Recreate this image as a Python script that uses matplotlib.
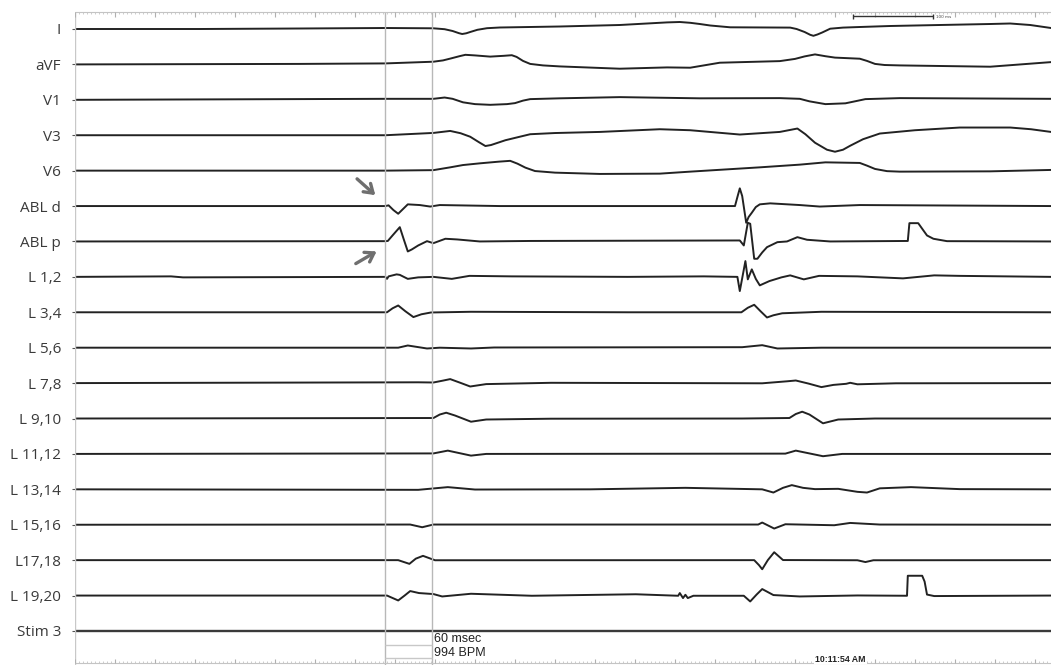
import matplotlib
matplotlib.use("Agg")
import matplotlib.pyplot as plt

# lead names, top to bottom
leads = ["I", "aVF", "V1", "V3", "V6", "ABL d", "ABL p", "L 1,2", "L 3,4", "L 5,6",
         "L 7,8", "L 9,10", "L 11,12", "L 13,14", "L 15,16", "L17,18", "L 19,20", "Stim 3"]

lead_I = [(0, 0), (156, 0), (281, 0.5), (388, 1), (448, 0.7), (462, -0.2), (472, -2), (480, -4.2),
          (484, -5), (489, -4.3), (494, -3), (503, -0.8), (515, 0.8), (531, 1.5), (606, 2.5),
          (681, 4), (715, 5.5), (740, 6.6), (756, 7), (769, 6.2), (781, 5), (794, 3.5), (819, 1.7),
          (894, 1.4), (902, 0), (912, -3), (919, -5.8), (923, -6.8), (928, -5.5), (934, -3.5),
          (944, 0.3), (960, 1.4), (981, 2), (1019, 3), (1081, 4), (1144, 5), (1169, 5.5),
          (1194, 4), (1220, 1)]
lead_aVF = [(0, 0), (281, 0.5), (388, 1), (448, 2.7), (460, 4), (470, 6), (481, 8.3), (488, 9.6),
            (500, 9), (519, 7.8), (536, 8.6), (546, 9.2), (552, 7.5), (560, 3.5), (569, 0.5),
            (585, -1), (606, -2), (681, -4.3), (740, -3), (769, -3.3), (806, 1.7), (881, 3.3),
            (900, 5.5), (912, 8), (925, 10), (938, 8.2), (950, 6.8), (981, 5.7), (990, 3.5),
            (1000, 0.5), (1012, -0.6), (1031, -1), (1144, -2.3), (1220, 2.3)]
lead_V1 = [(0, 0), (388, 1), (448, 1), (462, 2.3), (472, 1), (485, -2.5), (500, -4.3), (519, -5),
           (540, -4.3), (550, -3.3), (560, -0.8), (569, 0.7), (606, 1.5), (681, 2.7), (781, 1.5),
           (881, 1.7), (906, 1), (918, -1.5), (938, -4.3), (963, -3.5), (975, -1.5), (988, 0.7),
           (1031, 1.7), (1220, 1)]
lead_V3 = [(0, 0), (388, 0), (448, 2.3), (469, 4.3), (482, 2), (494, -1.5), (505, -7), (513, -10.8),
           (520, -9.8), (538, -5), (556, -1.5), (569, 1), (600, 2.2), (656, 3.3), (731, 6),
           (769, 5), (831, 0.7), (881, 3.3), (903, 6.7), (913, 1), (925, -7.5), (940, -14.5),
           (950, -16.5), (960, -14.5), (969, -10.5), (985, -4), (1006, 1.7), (1050, 5),
           (1106, 7.7), (1169, 7.7), (1195, 6), (1220, 3.3)]
lead_V6 = [(0, 0), (388, 0), (448, 0.5), (469, 3.3), (485, 5.6), (506, 7.3), (530, 9),
           (544, 9.8), (553, 7), (563, 3), (575, -0.4), (600, -2), (656, -3.3), (731, -3),
           (769, -1), (856, 3.3), (906, 6), (938, 8.3), (981, 7.7), (990, 5), (1000, 1.7),
           (1015, -0.5), (1031, -1), (1144, -0.7), (1220, 0.7)]
lead_ABLd = [(0, 0), (388, 0), (392, 0.7), (398, -4), (404, -7.7), (410, -3), (416, 1.7),
             (431, 1), (444, -0.5), (456, 1), (531, 0), (825, 0), (828, 9), (831, 17.7),
             (834, 10), (839, -16.7), (842, -11), (846, -6.7), (851, -1), (856, 1.7), (869, 2.7),
             (906, 1), (931, -0.5), (981, 1), (1220, 0)]
lead_ABLp = [(0, 0), (388, 0.3), (391, 0.5), (398, 7), (406, 14.3), (411, 2), (416, -10),
             (421, -8), (429, -4), (440, 0.3), (448, -1.7), (463, 2.7), (478, 2), (506, 0),
             (569, 0.5), (831, 1), (836, -4), (841, 18.7), (844, 17.7), (849, -17.3), (853, -17.3),
             (859, -11), (865, -5.7), (878, -0.7), (890, 0), (903, 4.3), (915, 1.7), (944, 0),
             (1041, 0.5), (1043, 18.3), (1054, 18.3), (1059, 12.7), (1065, 6), (1073, 2.7),
             (1090, 0.3), (1220, 0)]
lead_L12 = [(0, 0), (120, 0.5), (135, -0.5), (388, 0), (390, -2), (392, 0.5), (402, 2.5),
            (406, 2), (416, -2), (429, -0.5), (448, 0), (471, -2), (493, 1), (546, 0.5), (691, 0),
            (786, 0.5), (828, 0), (831, -14.2), (838, 15.8), (841, -2.5), (846, 7.5), (851, -2),
            (856, -8.5), (868, -4.2), (883, -0.5), (894, 1.5), (911, -2.5), (930, 1), (978, 0.5),
            (1035, -1.5), (1074, 1.5), (1106, 1), (1220, 0)]
lead_L34 = [(0, 0), (390, 0), (397, 4), (404, 6.8), (413, 1), (423, -4.8), (433, -2), (445, -0.2),
            (495, 0.5), (691, 0), (833, 0), (841, 4.5), (849, 7.5), (857, 1), (865, -5.2),
            (873, -3), (884, -1), (933, 0.5), (1220, 0)]
lead_L56 = [(0, 0), (404, 0), (416, 2.2), (440, -0.8), (456, 0), (495, -0.8), (524, 0.2),
            (834, 0.5), (859, 2.5), (878, -0.8), (933, 0), (1220, 0)]
lead_L78 = [(0, 0), (429, 0.8), (448, 0.6), (460, 2.5), (469, 4), (481, 0.5), (494, -3.4),
            (514, -1), (595, 0.3), (859, -0.2), (890, 1.8), (901, 2.6), (917, -0.5), (933, -4),
            (948, -1.8), (964, -0.7), (969, 0.3), (978, -1.2), (1026, -0.2), (1220, 0)]
lead_L910 = [(0, 0), (448, 0.5), (456, 4), (464, 5.8), (475, 3), (495, -3.2), (514, -1),
             (595, -0.2), (834, 0), (893, 0.5), (901, 4.5), (909, 6.8), (918, 4), (935, -4.8),
             (954, -1), (1000, 0), (1220, 0)]
lead_L1112 = [(0, 0), (448, 0.5), (466, 3.3), (495, -1.7), (514, 0), (888, 0.3), (901, 3.3),
              (935, -2.3), (959, 0), (1220, 0)]
lead_L1314 = [(0, 0), (429, -0.5), (466, 2.2), (500, -0.2), (644, 0), (763, 1.5), (859, 0),
              (873, -3.2), (885, 1.5), (896, 4.2), (910, 1.5), (925, 0.2), (954, 0.5),
              (978, -2.5), (990, -3.2), (1006, 1), (1045, 2.2), (1106, 0.2), (1220, 0)]
lead_L1516 = [(0, 0), (419, 0.2), (434, -2.5), (448, 0.2), (854, 0.2), (859, 2.2), (874, -3.8),
              (888, 0.5), (949, -0.5), (969, 1.8), (1006, 0.2), (1220, 0)]
lead_L1718 = [(0, 0), (404, 0), (418, -3.7), (426, 1.5), (435, 4.3), (450, -0.1), (849, 0),
              (855, -5), (859, -9.1), (866, 0), (874, 7.9), (885, 0.1), (978, -0.1),
              (988, -1.9), (998, -0.1), (1220, 0)]
lead_L1920 = [(0, 0), (390, 0), (404, -4.9), (412, 0), (419, 4.5), (430, 2.5), (448, 1.5),
              (459, -0.9), (495, 1.8), (571, -0.2), (701, 1.3), (754, -0.2), (756, 2.5),
              (760, -2.5), (763, 0.8), (766, -2.5), (773, -0.2), (836, -0.2), (844, -5.9),
              (852, 1), (859, 6.5), (873, 0.5), (906, -0.9), (978, 0.1), (1040, -0.2),
              (1041, 19.8), (1059, 19.8), (1062, 14), (1065, 1), (1074, -0.5), (1220, 0)]
lead_Stim3 = [(0, 0), (1220, 0)]

traces = [lead_I, lead_aVF, lead_V1, lead_V3, lead_V6, lead_ABLd, lead_ABLp, lead_L12, lead_L34,
          lead_L56, lead_L78, lead_L910, lead_L1112, lead_L1314, lead_L1516, lead_L1718,
          lead_L1920, lead_Stim3]

# calipers (ms) and annotations
caliper_t = [388, 446]
caliper_text = ["60 msec", "994 BPM"]
clock_text = "10:11:54 AM"
scale_bar_ms = 100

if __name__ == "__main__":
  fig = plt.figure(figsize=(10.51, 6.65), dpi=100)
  ax = fig.add_axes([75 / 1051, 0, 976 / 1051, 1])
  ax.set_xlim(0, 1220)
  ax.set_ylim(665, 0)
  for s in ax.spines.values():
    s.set_visible(False)

  row_y = [29 + i * 35.41 for i in range(len(leads))]

  for i, tr in enumerate(traces):
    t = [p[0] for p in tr]
    v = [row_y[i] - p[1] for p in tr]
    if leads[i] == "Stim 3":
      ax.plot(t, v, color="#3a3a3a", lw=1.7, solid_capstyle="butt")
    else:
      ax.plot(t, v, color="#222222", lw=1.4, solid_joinstyle="round")

  ax.set_xticks([])
  ax.set_yticks(row_y)
  ax.set_yticklabels(leads, fontsize=11, color="#3a3a3a", family="Open Sans")
  ax.tick_params(axis="y", length=2, width=0.8, color="#555555", pad=8)

  # grey frame lines: left edge and calipers
  ax.vlines([0], 12, 665, color="#c8c8c8", lw=1.0)
  ax.vlines(caliper_t, 12, 665, color="#b8b8b8", lw=1.0)
  ax.hlines([645, 658], caliper_t[0], caliper_t[1], color="#c8c8c8", lw=1.0)
  ax.text(caliper_t[1] + 3, 639, caliper_text[0], fontsize=9, family="Liberation Sans",
          color="#222222", va="center")
  ax.text(caliper_t[1] + 3, 653, caliper_text[1], fontsize=9, family="Liberation Sans",
          color="#222222", va="center")

  # rulers top and bottom, minor every 5 ms, major every 50 ms
  for yr, sgn in [(12, 1), (663, -1)]:
    ax.hlines(yr, 0, 1220, color="#c4c4c4", lw=0.8)
    minor = [k * 5 for k in range(245)]
    major = [k * 50 for k in range(25)]
    ax.vlines(minor, yr, yr + sgn * 2.2, color="#c4c4c4", lw=0.6)
    ax.vlines(major, yr, yr + sgn * 4.5, color="#b0b0b0", lw=0.8)

  ax.text(957, 659, clock_text, fontsize=6.3, family="Liberation Sans", weight="bold",
          color="#222222", ha="center", va="center",
          bbox=dict(facecolor="white", edgecolor="none", pad=0.6))

  # 100 ms scale bar
  sb0 = 972.5
  ax.hlines(16, sb0, sb0 + scale_bar_ms, color="#333333", lw=1.0)
  ax.vlines([sb0, sb0 + scale_bar_ms], 13.5, 18.5, color="#333333", lw=1.0)
  ax.text(sb0 + scale_bar_ms + 4, 16.5, "100 ms", fontsize=3, color="#444444", va="center")

  # arrows pointing at the ABL signals
  aprops = dict(arrowstyle="->,head_length=0.6,head_width=0.4", color="#6f6f6f", lw=2.4)
  ax.annotate("", xy=(378, 197), xytext=(350, 177), arrowprops=aprops)
  ax.annotate("", xy=(380, 250), xytext=(348, 265), arrowprops=aprops)

  fig.savefig("out.png", dpi=100)
